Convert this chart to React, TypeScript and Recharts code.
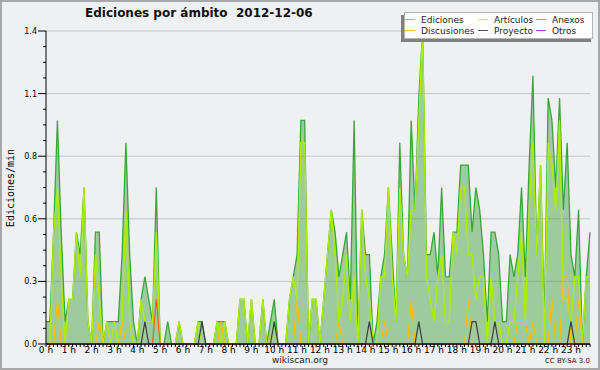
import { Area, CartesianGrid, ComposedChart, Line, XAxis, YAxis } from 'recharts'

// one value per 10 minutes, 6 per hour, 0 h .. 23 h (ediciones/min)
const ediciones = [
  0.1, 0.1, 0.5, 1.0, 0.5, 0.1,
  0.2, 0.2, 0.5, 0.4, 0.7, 0.1,
  0, 0.5, 0.5, 0, 0.1, 0.1,
  0.1, 0.1, 0.4, 0.9, 0.4, 0.1,
  0, 0.2, 0.3, 0.2, 0.1, 0.7,
  0, 0, 0.1, 0, 0, 0.1,
  0, 0, 0, 0, 0.1, 0.1,
  0, 0, 0, 0.1, 0.1, 0.1,
  0, 0, 0, 0.2, 0.2, 0,
  0.2, 0, 0, 0.2, 0, 0.1,
  0.2, 0, 0, 0, 0.2, 0.3,
  0.4, 1.0, 1.0, 0, 0.2, 0.2,
  0, 0.2, 0.4, 0.6, 0.5, 0.3,
  0.4, 0.5, 0.2, 1.0, 0, 0.6,
  0.4, 0.4, 0, 0.1, 0.3, 0.4,
  0.7, 0.4, 0.1, 0.9, 0.4, 0.3,
  1.0, 0.6, 1.1, 1.4, 0.4, 0.4,
  0.5, 0.3, 0.7, 0.3, 0.3, 0.5,
  0.5, 0.8, 0.8, 0.8, 0.5, 0.7,
  0.6, 0.4, 0.1, 0.5, 0.5, 0.4,
  0.1, 0.1, 0.4, 0.3, 0.4, 0.7,
  0.3, 0.8, 1.2, 0.4, 0.8, 0.1,
  1.1, 1.0, 0.7, 1.1, 0.6, 0.9,
  0.4, 0.3, 0.6, 0, 0.3, 0.5,
]

const articulos = [
  0, 0, 0.5, 0.7, 0.3, 0,
  0.2, 0.2, 0.5, 0.3, 0.7, 0.1,
  0, 0.4, 0.2, 0, 0.1, 0,
  0.1, 0, 0.1, 0.6, 0.1, 0,
  0, 0.2, 0.1, 0.1, 0.1, 0.5,
  0, 0, 0, 0, 0, 0.1,
  0, 0, 0, 0, 0.1, 0,
  0, 0, 0, 0.1, 0, 0.1,
  0, 0, 0, 0.2, 0.2, 0,
  0.2, 0, 0, 0.2, 0, 0,
  0.1, 0, 0, 0, 0.2, 0.3,
  0.2, 0.9, 0.9, 0, 0.2, 0.2,
  0, 0.2, 0.4, 0.6, 0.4, 0.1,
  0.2, 0.4, 0.1, 0.3, 0, 0.6,
  0.3, 0.2, 0, 0, 0.3, 0.3,
  0.7, 0.3, 0.1, 0.7, 0.4, 0.3,
  0.6, 0.6, 1.0, 1.4, 0.3, 0.2,
  0.1, 0.3, 0.4, 0.1, 0.1, 0.5,
  0.4, 0.7, 0.7, 0.4, 0.4, 0.2,
  0.3, 0.3, 0, 0.3, 0.1, 0.1,
  0, 0, 0.1, 0.1, 0.3, 0.5,
  0.1, 0.6, 0.9, 0.4, 0.8, 0,
  0.9, 0.8, 0.6, 1.0, 0.2, 0.2,
  0.1, 0.3, 0.3, 0, 0.3, 0.3,
]

const discusiones = [
  0, 0, 0, 0.2, 0, 0,
  0, 0, 0, 0, 0, 0,
  0, 0, 0.1, 0, 0, 0,
  0, 0, 0.1, 0, 0, 0,
  0, 0, 0, 0, 0, 0,
  0, 0, 0, 0, 0, 0,
  0, 0, 0, 0, 0, 0,
  0, 0, 0, 0, 0.1, 0,
  0, 0, 0, 0, 0, 0,
  0, 0, 0, 0, 0, 0,
  0, 0, 0, 0, 0, 0,
  0.2, 0, 0, 0, 0, 0,
  0, 0, 0, 0, 0, 0.1,
  0, 0, 0, 0, 0, 0,
  0, 0, 0, 0, 0, 0.1,
  0, 0, 0, 0, 0, 0,
  0.2, 0, 0, 0, 0, 0,
  0, 0, 0, 0, 0, 0,
  0, 0, 0, 0.2, 0, 0,
  0, 0, 0, 0, 0, 0,
  0, 0, 0, 0, 0.1, 0.1,
  0.1, 0, 0.1, 0, 0, 0,
  0, 0.2, 0, 0, 0.3, 0.3,
  0, 0, 0.2, 0, 0, 0,
]

const proyecto = [
  0, 0, 0, 0, 0, 0,
  0, 0, 0, 0, 0, 0,
  0, 0, 0, 0, 0, 0,
  0, 0, 0, 0, 0, 0,
  0, 0, 0.1, 0, 0, 0,
  0, 0, 0, 0, 0, 0,
  0, 0, 0, 0, 0, 0.1,
  0, 0, 0, 0, 0, 0,
  0, 0, 0, 0, 0, 0,
  0, 0, 0, 0, 0, 0,
  0.1, 0, 0, 0, 0, 0,
  0, 0, 0, 0, 0, 0,
  0, 0, 0, 0, 0, 0,
  0, 0, 0, 0, 0, 0,
  0, 0.1, 0, 0, 0, 0,
  0, 0, 0, 0, 0, 0,
  0, 0, 0.1, 0, 0, 0,
  0, 0, 0, 0, 0, 0,
  0, 0, 0, 0, 0.1, 0.1,
  0, 0, 0, 0, 0.1, 0,
  0, 0, 0, 0, 0, 0,
  0, 0, 0, 0, 0, 0,
  0, 0, 0, 0, 0, 0,
  0.1, 0, 0, 0, 0, 0,
]

const anexos = [
  0, 0, 0, 0, 0, 0,
  0, 0, 0, 0, 0, 0,
  0, 0, 0, 0, 0, 0,
  0, 0, 0, 0, 0, 0,
  0, 0, 0, 0, 0, 0.2,
  ...new Array(114).fill(0),
]

const otros = new Array(144).fill(0)

const hourLabels = [
  '0 h', '1 h', '2 h', '3 h', '4 h', '5 h', '6 h', '7 h', '8 h', '9 h', '10 h', '11 h',
  '12 h', '13 h', '14 h', '15 h', '16 h', '17 h', '18 h', '19 h', '20 h', '21 h', '22 h', '23 h',
]

const yMajor = [0, 0.28, 0.56, 0.84, 1.12, 1.4]
const yMinor = [
  0, 0.07, 0.14, 0.21, 0.28, 0.35, 0.42, 0.49, 0.56, 0.63, 0.7,
  0.77, 0.84, 0.91, 0.98, 1.05, 1.12, 1.19, 1.26, 1.33, 1.4,
]

const data = ediciones.map((v, i) => ({
  slot: i,
  ediciones: v,
  articulos: articulos[i],
  discusiones: discusiones[i],
  proyecto: proyecto[i],
  anexos: anexos[i],
  otros: otros[i],
}))
const slots = data.map(d => d.slot)

const legendItems = [
  { name: 'Ediciones', color: '#86cc86', col: 0, row: 0 },
  { name: 'Discusiones', color: '#f5c400', col: 0, row: 1 },
  { name: 'Artículos', color: '#c4f24a', col: 1, row: 0 },
  { name: 'Proyecto', color: '#555555', col: 1, row: 1 },
  { name: 'Anexos', color: '#f07a40', col: 2, row: 0 },
  { name: 'Otros', color: '#9b3cf0', col: 2, row: 1 },
]
const legendCols = [404, 477, 535]

const FONT = '"DejaVu Sans", Verdana, sans-serif'

const YTick = (props: any) => {
  const { x, y, payload } = props
  const major = yMajor.some(v => Math.abs(v - payload.value) < 1e-6)
  return (
    <g>
      <line x1={x - (major ? 8 : 3)} x2={x} y1={y} y2={y} stroke="#000" strokeWidth={1} />
      {major && (
        <text x={x - 9} y={y} dy={3} textAnchor="end" fontSize={8} fill="#000" fontFamily={FONT}>
          {payload.value.toFixed(1)}
        </text>
      )}
    </g>
  )
}

export default function App() {
  return (
    <div style={{ position: 'fixed', left: 0, top: 0, width: 600, height: 370, background: '#eff0f2', fontFamily: FONT }}>
      <ComposedChart
        width={600}
        height={370}
        data={data}
        margin={{ top: 31, right: 10, bottom: 6, left: 0 }}
        style={{ position: 'absolute', left: 0, top: 0 }}
      >
        <CartesianGrid horizontal vertical={false} horizontalValues={yMajor} stroke="#c4c4c4" strokeWidth={1} />
        <XAxis
          dataKey="slot"
          type="number"
          domain={[0, 143]}
          ticks={slots}
          interval={0}
          height={20}
          tickSize={3}
          tickMargin={0}
          stroke="#000"
          tick={{ fontSize: 9, fill: '#000', fontFamily: FONT }}
          tickFormatter={(v: number) => (v % 6 === 0 ? hourLabels[v / 6] : '')}
        />
        <YAxis
          type="number"
          domain={[0, 1.4]}
          ticks={yMinor}
          interval={0}
          width={46}
          tickSize={0}
          tickMargin={0}
          tickLine={false}
          stroke="#000"
          tick={<YTick />}
        />
        <Area
          type="linear"
          dataKey="ediciones"
          stroke="#3aa63a"
          strokeWidth={1.3}
          fill="#3b9e37"
          fillOpacity={0.45}
          isAnimationActive={false}
          dot={false}
          activeDot={false}
        />
        <Line type="linear" dataKey="articulos" stroke="#adee00" strokeWidth={1.4} dot={false} isAnimationActive={false} />
        <Line type="linear" dataKey="discusiones" stroke="#f5c000" strokeWidth={1.2} dot={false} isAnimationActive={false} />
        <Line type="linear" dataKey="anexos" stroke="#ff5a1a" strokeWidth={1.2} dot={false} isAnimationActive={false} />
        <Line type="linear" dataKey="otros" stroke="#9b30ff" strokeWidth={1} dot={false} isAnimationActive={false} />
        <Line type="linear" dataKey="proyecto" stroke="#3c3c3c" strokeWidth={1.2} dot={false} isAnimationActive={false} />
      </ComposedChart>

      <div style={{ position: 'absolute', left: 85, top: 6, fontSize: 12, fontWeight: 'bold', color: '#111', whiteSpace: 'pre' }}>
        {'Ediciones por ámbito  2012-12-06'}
      </div>

      <div
        style={{
          position: 'absolute', left: 10, top: 188, transform: 'translate(-50%, -50%) rotate(-90deg)',
          fontSize: 10, fontFamily: '"DejaVu Sans Mono", monospace', color: '#000', whiteSpace: 'nowrap',
        }}
      >
        Ediciones/min
      </div>

      <div style={{ position: 'absolute', left: 401, top: 15, width: 190, height: 27, background: '#808080' }} />
      <div style={{ position: 'absolute', left: 404, top: 12, width: 189, height: 27, boxSizing: 'border-box', background: '#fff', border: '1px solid #b4b4b4' }}>
        {legendItems.map(it => (
          <div key={it.name} style={{ position: 'absolute', left: legendCols[it.col] - 404, top: 1 + it.row * 11, height: 11, display: 'flex', alignItems: 'center', fontSize: 9, color: '#222', whiteSpace: 'nowrap' }}>
            <span style={{ display: 'inline-block', width: 10, height: 1, background: it.color, marginRight: 6 }} />
            {it.name}
          </div>
        ))}
      </div>

      <div style={{ position: 'absolute', left: 0, width: 600, top: 355, textAlign: 'center', fontSize: 9, color: '#222' }}>wikiscan.org</div>
      <div style={{ position: 'absolute', right: 10, top: 357, fontSize: 7, color: '#222' }}>CC BY-SA 3.0</div>

      <div style={{ position: 'absolute', left: 0, top: 0, width: 600, height: 370, boxSizing: 'border-box', border: '2px solid #a8a8a8', pointerEvents: 'none' }} />
    </div>
  )
}
